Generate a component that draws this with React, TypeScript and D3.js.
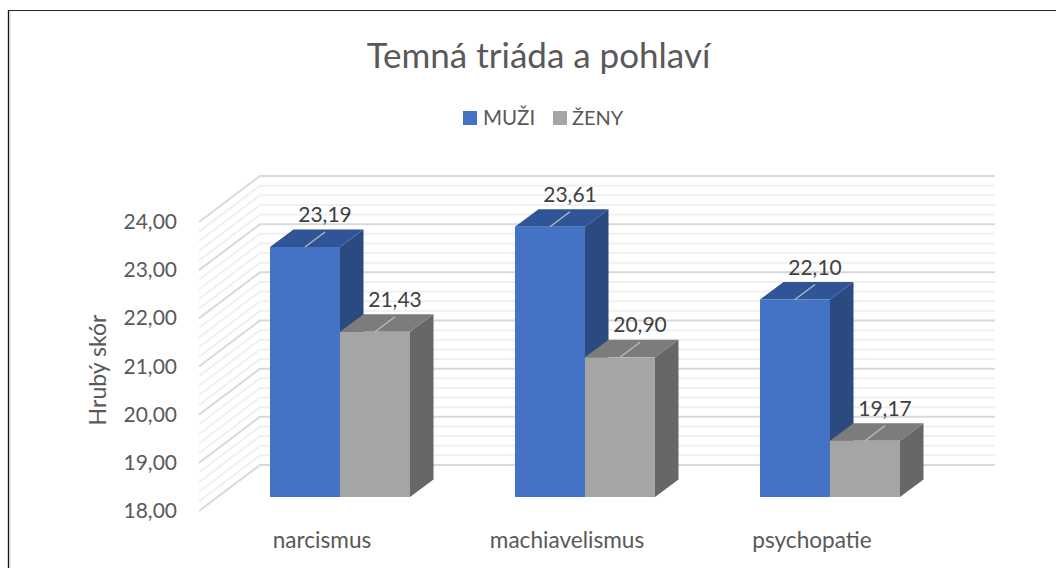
import React from "react";
import * as d3 from "d3";

const categories = ["narcismus", "machiavelismus", "psychopatie"];
const seriesNames = ["MUŽI", "ŽENY"];
const muzi = [23.19, 23.61, 22.1];
const zeny = [21.43, 20.9, 19.17];
const majorTicks = [18, 19, 20, 21, 22, 23, 24];
const minorTicks = d3.range(0, 31).map((i) => 18 + i * 0.2);
const title = "Temná triáda a pohlaví";
const yTitle = "Hrubý skór";

const FONT = "Lato, 'Open Sans', sans-serif";
const fmt = (v: number) => v.toFixed(2).replace(".", ",");

export default function App() {
  const y = d3.scaleLinear().domain([18, 24]).range([0, -289]);
  const center = d3.scalePoint<string>().domain(categories).range([340, 830]);
  const barW = 70;
  const FRONT_Y = 497; // bar front baseline
  const barD = { x: 23.5, y: -17.5 };
  const wallFront = { x: 199, y: 511 };
  const wallBack = { x: 260, y: 465 };
  const rightEnd = 995;

  const series = [
    { name: seriesNames[0], values: muzi, front: "#4472c4", top: "#2f5597", side: "#2b4a80", off: -barW },
    { name: seriesNames[1], values: zeny, front: "#a5a5a5", top: "#7c7c7c", side: "#676767", off: 0 },
  ];

  return (
    <svg width={1056} height={568} style={{ position: "absolute", left: 0, top: 0, fontFamily: FONT }}>
      <rect width={1056} height={568} fill="#fff" />
      <line x1={8} y1={10.5} x2={1056} y2={10.5} stroke="#262626" strokeWidth={1.2} />
      <line x1={8.5} y1={10} x2={8.5} y2={568} stroke="#111" strokeWidth={1.3} />
      <line x1={10} y1={11} x2={10} y2={568} stroke="#d0d0d0" strokeWidth={1} />

      <text x={538.5} y={68} textAnchor="middle" fontSize={35} fill="#595959">{title}</text>

      <rect x={463} y={111} width={14} height={14} fill="#4472c4" />
      <text x={483} y={125} fontSize={20.5} fill="#595959">{seriesNames[0]}</text>
      <rect x={553} y={111} width={14} height={14} fill="#a5a5a5" />
      <text x={572} y={125} fontSize={20} fill="#595959">{seriesNames[1]}</text>

      {minorTicks.filter((t) => Math.abs(t % 1) > 0.01 && Math.abs(t % 1) < 0.99).map((t) => (
        <path key={t} fill="none" stroke="#f0f0f0" strokeWidth={2}
          d={`M${wallFront.x},${wallFront.y + y(t)}L${wallBack.x},${wallBack.y + y(t)}H${rightEnd}`} />
      ))}
      {majorTicks.map((t) => (
        <g key={t}>
          <path fill="none" stroke="#d9d9d9" strokeWidth={2}
            d={`M${wallFront.x},${wallFront.y + y(t)}L${wallBack.x},${wallBack.y + y(t)}H${rightEnd}`} />
          <text x={177} y={wallFront.y + y(t) + 7} textAnchor="end" fontSize={21} fill="#595959">{fmt(t)}</text>
        </g>
      ))}

      <text transform="translate(106,370) rotate(-90)" textAnchor="middle" fontSize={23} fill="#595959">{yTitle}</text>

      {categories.map((c, i) => {
        const cx = center(c)!;
        return (
          <g key={c}>
            {series.map((s) => {
              const x0 = cx + s.off;
              const x1 = x0 + barW;
              const top = FRONT_Y + y(s.values[i]);
              return (
                <g key={s.name}>
                  <path fill={s.side} d={`M${x1},${top}L${x1 + barD.x},${top + barD.y}V${FRONT_Y + barD.y}L${x1},${FRONT_Y}Z`} />
                  <path fill={s.top} d={`M${x0},${top}L${x0 + barD.x},${top + barD.y}H${x1 + barD.x}L${x1},${top}Z`} />
                  <rect x={x0} y={top} width={barW} height={FRONT_Y - top} fill={s.front} />
                </g>
              );
            })}
            <text x={cx - 18} y={548} textAnchor="middle" fontSize={22.6} fill="#595959">{c}</text>
          </g>
        );
      })}

      {categories.map((c, i) => {
        const cx = center(c)!;
        return (
          <g key={c}>
            {series.map((s) => {
              const mid = cx + s.off + barW / 2;
              const top = FRONT_Y + y(s.values[i]);
              return (
                <g key={s.name}>
                  <line x1={mid} y1={top} x2={mid + 20} y2={top - 15} stroke="#bfbfbf" strokeWidth={1.2} />
                  <text x={mid + 20} y={top - 25} textAnchor="middle" fontSize={21} fill="#404040">{fmt(s.values[i])}</text>
                </g>
              );
            })}
          </g>
        );
      })}
    </svg>
  );
}
